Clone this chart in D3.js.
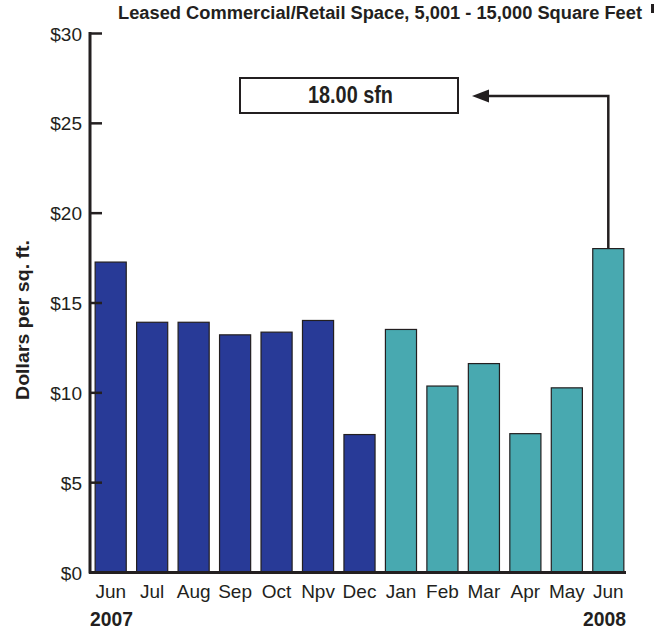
<!DOCTYPE html>
<html><head><meta charset="utf-8">
<script src="https://cdn.jsdelivr.net/npm/d3@7"></script>
<style>body{margin:0;background:#fff}svg{display:block}
text{font-family:"Liberation Sans",Arial,sans-serif;fill:#231f20}</style>
</head><body><svg id="c" width="658" height="631"></svg>
<script>
const months = ["Jun","Jul","Aug","Sep","Oct","Npv","Dec","Jan","Feb","Mar","Apr","May","Jun"];
const values = [17.25,13.9,13.9,13.2,13.35,14.0,7.65,13.5,10.35,11.6,7.7,10.25,18.0];
const years = ["2007","2007","2007","2007","2007","2007","2007","2008","2008","2008","2008","2008","2008"];
const yTicks = [0,5,10,15,20,25,30];
const colors = {"2007":"#283a97","2008":"#48a9b0"};
const title = "Leased Commercial/Retail Space, 5,001 - 15,000 Square Feet";
const annotation = "18.00 sfn";

const svg = d3.select("#c");
const x = d3.scaleBand().domain(d3.range(months.length)).range([91,628]).paddingInner(0.25).paddingOuter(0.1);
const y = d3.scaleLinear().domain([0,30]).range([572,33]);

// bars
svg.selectAll("rect.bar").data(values).join("rect")
  .attr("x",(d,i)=>x(i)).attr("width",x.bandwidth())
  .attr("y",d=>y(d)).attr("height",d=>y(0)-y(d))
  .attr("fill",(d,i)=>colors[years[i]]).attr("stroke","#231f20").attr("stroke-width",1.2);

// y axis
const ax = svg.append("g").attr("transform","translate(90,0)")
  .call(d3.axisRight(y).tickValues(yTicks).tickSize(12).tickFormat(""));
ax.select(".domain").remove();
ax.selectAll("line").attr("stroke","#231f20").attr("stroke-width",2.5);
svg.append("line").attr("x1",90).attr("x2",90).attr("y1",y(30)-1).attr("y2",y(0)+1.5)
  .attr("stroke","#231f20").attr("stroke-width",3);
svg.append("line").attr("x1",89).attr("x2",626).attr("y1",y(0)+0.5).attr("y2",y(0)+0.5)
  .attr("stroke","#231f20").attr("stroke-width",3);
svg.selectAll("text.yl").data(yTicks).join("text").attr("class","yl")
  .attr("x",82).attr("y",d=>y(d)).attr("dy","0.4em").attr("text-anchor","end")
  .attr("font-size",19).text(d=>"$"+d);

// x labels
svg.selectAll("text.xl").data(months).join("text").attr("class","xl")
  .attr("x",(d,i)=>x(i)+x.bandwidth()/2).attr("y",598).attr("text-anchor","middle")
  .attr("font-size",19).text(d=>d);
svg.append("text").attr("x",90).attr("y",626).attr("font-size",21).attr("font-weight","bold")
  .attr("textLength",43).attr("lengthAdjust","spacingAndGlyphs").text(years[0]);
svg.append("text").attr("x",583).attr("y",626).attr("font-size",21).attr("font-weight","bold")
  .attr("textLength",43).attr("lengthAdjust","spacingAndGlyphs").text(years[years.length-1]);

// title
svg.append("text").attr("x",118).attr("y",19)
  .attr("font-size",18).attr("font-weight","bold")
  .attr("textLength",524).attr("lengthAdjust","spacingAndGlyphs").text(title);
svg.append("rect").attr("x",651).attr("y",4).attr("width",3).attr("height",9).attr("fill","#231f20");

// y axis title
svg.append("text").attr("transform","translate(29,400) rotate(-90)")
  .attr("font-size",19).attr("font-weight","bold")
  .attr("textLength",160).attr("lengthAdjust","spacingAndGlyphs").text("Dollars per sq. ft.");

// annotation
const last = values.length-1;
const bx = x(last)+x.bandwidth()/2;
svg.append("rect").attr("x",240).attr("y",78).attr("width",218).attr("height",35)
  .attr("fill","#fff").attr("stroke","#231f20").attr("stroke-width",2);
svg.append("text").attr("x",308).attr("y",103)
  .attr("font-size",23).attr("font-weight","bold")
  .attr("textLength",85).attr("lengthAdjust","spacingAndGlyphs").text(annotation);
svg.append("path").attr("d",`M${bx},${y(values[last])} V96 H484`).attr("fill","none")
  .attr("stroke","#231f20").attr("stroke-width",2.5);
svg.append("path").attr("d","M472,96 L489,89.5 L489,102.5 Z").attr("fill","#231f20");
</script></body></html>
